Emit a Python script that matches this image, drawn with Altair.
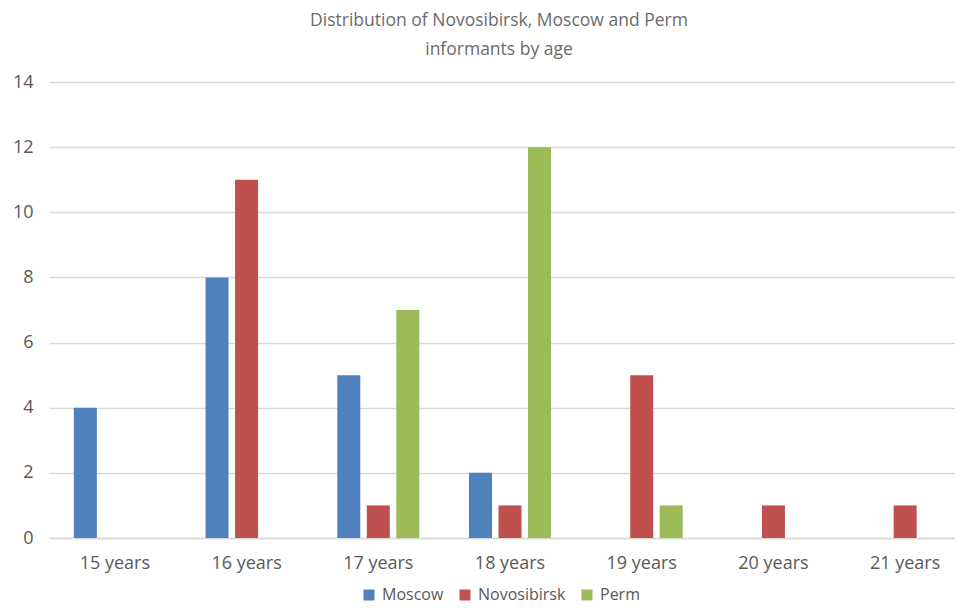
import altair as alt
import pandas as pd

ages = ["15 years", "16 years", "17 years", "18 years", "19 years", "20 years", "21 years"]
cities = ["Moscow", "Novosibirsk", "Perm"]
moscow = [4, 8, 5, 2, 0, 0, 0]
novosibirsk = [0, 11, 1, 1, 5, 1, 1]
perm = [0, 0, 7, 12, 1, 0, 0]
colors = ["#4F81BD", "#C0504D", "#9BBB59"]
y_ticks = [0, 2, 4, 6, 8, 10, 12, 14]

rows = []
for city, vals in zip(cities, [moscow, novosibirsk, perm]):
    for a, v in zip(ages, vals):
        rows.append({"age": a, "city": city, "count": v})
df = pd.DataFrame(rows)

FONT = "Open Sans"
TXT = "#595959"
GRID = "#d9d9d9"

chart = alt.Chart(df).mark_bar().encode(
    x=alt.X(
        "age:N", sort=ages,
        scale=alt.Scale(range=[0, 922], paddingInner=0.328, paddingOuter=0.164),
        axis=alt.Axis(title=None, labelAngle=0, labelFontSize=18, labelColor=TXT,
                      labelFont=FONT, labelPadding=16, ticks=False, tickSize=0,
                      domainColor=GRID, domainWidth=1.3, grid=False),
    ),
    xOffset=alt.XOffset("city:N", sort=cities,
                        scale=alt.Scale(paddingInner=0.22, paddingOuter=0.11)),
    y=alt.Y(
        "count:Q", scale=alt.Scale(domain=[0, 14]),
        axis=alt.Axis(title=None, values=y_ticks, labelFontSize=18, labelColor=TXT,
                      labelFont=FONT, labelPadding=16, ticks=False, tickSize=0,
                      domain=False, gridColor=GRID, gridWidth=1.3),
    ),
    color=alt.Color(
        "city:N", sort=cities,
        scale=alt.Scale(domain=cities, range=colors),
        legend=alt.Legend(title=None, orient="none", direction="horizontal",
                          legendX=312, legendY=505, symbolType="square",
                          symbolSize=121, symbolStrokeWidth=0, labelFontSize=16,
                          labelFont=FONT, labelColor=TXT, labelOffset=5,
                          columnPadding=13, padding=0),
    ),
).properties(
    width=906, height=456,
    title=alt.TitleParams(
        ["Distribution of Novosibirsk, Moscow and Perm", "informants by age"],
        fontSize=17.5, font=FONT, color="#6b6b6b", fontWeight="normal",
        lineHeight=29, anchor="middle", offset=15, dx=-3,
    ),
    autosize=alt.AutoSizeParams(type="none"),
    padding={"left": 41, "top": 74, "right": 0, "bottom": 66},
).configure_view(stroke=None)

chart.save("out.html", embed_options={"renderer": "svg", "actions": False})
